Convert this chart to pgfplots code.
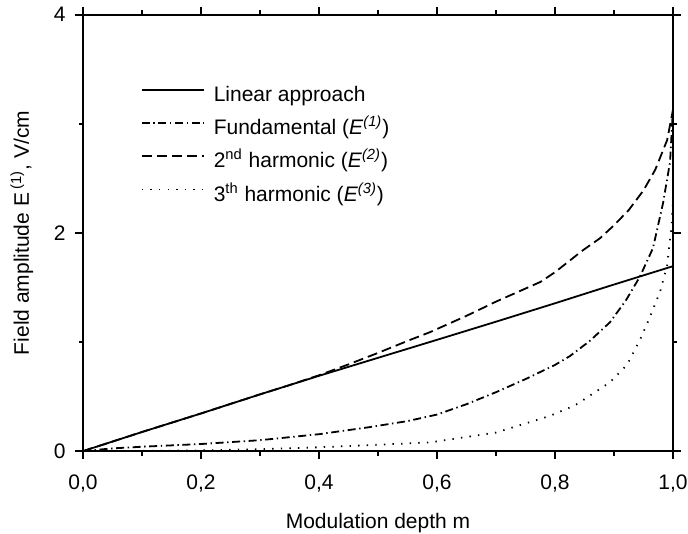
\documentclass[border=0pt]{standalone}
\usepackage{fontspec}
\setmainfont{Liberation Sans}
\usepackage{pgfplots}
\pgfplotsset{compat=1.18}
\newcommand{\fs}{\fontsize{10.5}{12.5}\selectfont}
\begin{document}
\begin{tikzpicture}
\begin{axis}[
  scale only axis,
  width=295pt, height=218.2pt,
  xmin=0, xmax=1, ymin=0, ymax=4,
  axis line style={line width=0.9pt},
  tick style={line width=0.8pt, black},
  tick align=outside,
  major tick length=4pt,
  minor tick length=2.2pt,
  xtick={0,0.2,0.4,0.6,0.8,1},
  xticklabels={{0,0},{0,2},{0,4},{0,6},{0,8},{1,0}},
  minor xtick={0.1,0.3,0.5,0.7,0.9},
  ytick={0,2,4},
  yticklabels={0,2,4},
  minor ytick={1,3},
  xtick pos=both, ytick pos=both,
  /pgf/number format/assume math mode=true,
  ticklabel style={font=\fs, inner sep=0pt},
  xticklabel style={yshift=-7.5pt},
  yticklabel style={xshift=-4.5pt},
  xlabel={Modulation depth m},
  ylabel={Field amplitude E\textsuperscript{\kern0.25em(1)}, V/cm},
  xlabel style={font=\fs, inner sep=0pt, at={(rel axis cs:0.5,0)}, anchor=north, yshift=-31pt},
  ylabel style={font=\fs, inner sep=0pt, at={(rel axis cs:0,0.5)}, rotate=0, anchor=north, yshift=36.5pt},
  legend cell align=left,
  legend style={
    at={(rel axis cs:0.0983,0.838)}, anchor=north west,
    draw=none, fill=none, inner sep=0pt, outer sep=0pt,
    font=\fs, row sep=6.1pt,
    nodes={inner sep=0pt, text height=8pt, text depth=2.5pt},
    /tikz/every odd column/.append style={column sep=4.5pt},
  },
  legend image code/.code={\draw[#1] (0pt,3pt) -- (31pt,3pt);},
  every axis plot/.append style={line width=0.9pt, black},
]
\addplot[solid] coordinates {
(0,0) (0.1,0.175) (0.2,0.345) (0.3,0.52) (0.4,0.69) (0.5,0.855) (0.6,1.02) (0.707,1.198) (0.8,1.355) (0.893,1.515) (1.0,1.695)
};
\addlegendentry{Linear approach}
\addplot[dash pattern=on 4pt off 1.8pt on 0.7pt off 1.8pt] coordinates {
(0,0) (0.05,0.025) (0.1,0.04) (0.2,0.065) (0.3,0.10) (0.4,0.155) (0.486,0.22) (0.55,0.275) (0.6,0.335) (0.65,0.43) (0.7,0.54) (0.75,0.66) (0.8,0.79) (0.825,0.87) (0.859,1.01) (0.893,1.18) (0.92,1.38) (0.944,1.60) (0.966,1.86) (0.983,2.27) (0.995,2.65) (1.0,3.15)
};
\addlegendentry{Fundamental (\textit{E}\textsuperscript{\textit{(1)}})}
\addplot[dash pattern=on 5pt off 2.5pt] coordinates {
(0,0) (0.1,0.175) (0.2,0.345) (0.3,0.52) (0.35,0.605) (0.4,0.695) (0.45,0.795) (0.5,0.90) (0.55,1.01) (0.588,1.09) (0.65,1.24) (0.7,1.37) (0.775,1.55) (0.8,1.64) (0.847,1.84) (0.876,1.95) (0.9,2.07) (0.925,2.21) (0.95,2.39) (0.97,2.58) (0.99,2.85) (1.0,3.13)
};
\addlegendentry{2\textsuperscript{nd} harmonic (\textit{E}\textsuperscript{\textit{(2)}})}
\addplot[dash pattern=on 0.7pt off 3.6pt] coordinates {
(0,0) (0.1,0.002) (0.2,0.006) (0.3,0.018) (0.4,0.035) (0.5,0.058) (0.588,0.08) (0.7,0.17) (0.79,0.32) (0.834,0.42) (0.854,0.49) (0.893,0.63) (0.922,0.79) (0.944,1.02) (0.961,1.23) (0.978,1.46) (0.99,1.70) (0.998,2.09) (1.0,2.3)
};
\addlegendentry{3\textsuperscript{th} harmonic (\textit{E}\textsuperscript{\textit{(3)}})}
\node[anchor=east, font=\fs, inner sep=0pt] at ([xshift=-6.5pt]rel axis cs:0,0.924) {(×10\textsuperscript{3})};
\coordinate (sw) at (rel axis cs:0,0);
\coordinate (ne) at (rel axis cs:1,1);
\end{axis}
\path ([shift={(-41.5pt,-37.5pt)}]sw) rectangle ([shift={(7.5pt,7.35pt)}]ne);
\end{tikzpicture}
\end{document}
